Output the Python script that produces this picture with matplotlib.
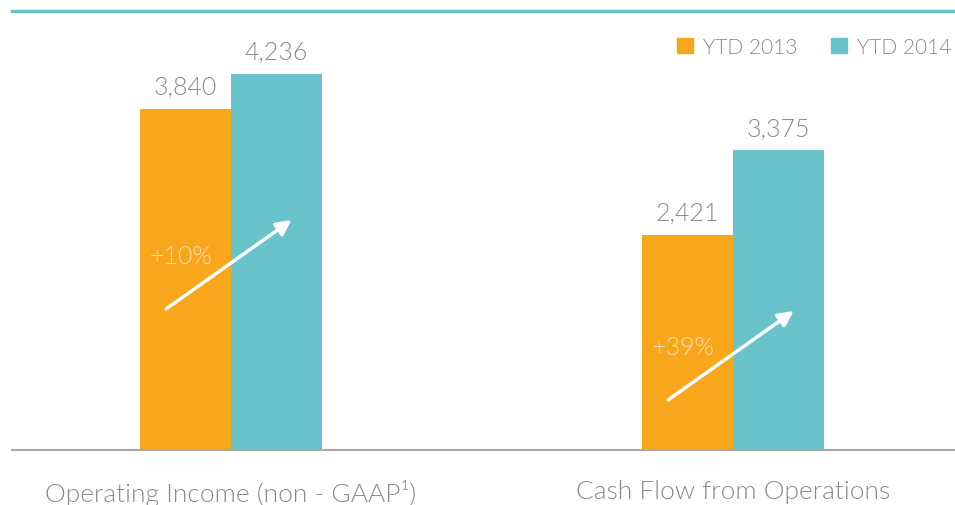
import matplotlib
matplotlib.use("Agg")
import matplotlib.pyplot as plt
from matplotlib.lines import Line2D
from matplotlib.patches import Patch
import numpy as np

categories = ["Operating Income (non - GAAP\u00b9)", "Cash Flow from Operations"]
series_names = ["YTD 2013", "YTD 2014"]
ytd_2013 = [3840, 2421]
ytd_2014 = [4236, 3375]

# annotation arrow positions (data y values) per group
arrow_y_start = [1590, 565]
arrow_y_end = [2590, 1565]
pct_label_y = [2185, 1160]

ORANGE = "#F8A61C"
TEAL = "#68C3CB"
GRAY = "#8A8A8A"
FONT = ["Lato", "DejaVu Sans"]
WT = 300

fig = plt.figure(figsize=(9.55, 5.06), dpi=100)
ax = fig.add_axes([12/955, 55/506, 943/955, 439/506])

x = np.arange(len(categories))
w = 0.1813
b1 = ax.bar(x - w/2, ytd_2013, w, color=ORANGE, label=series_names[0])
b2 = ax.bar(x + w/2, ytd_2014, w, color=TEAL, label=series_names[1])

ax.set_xlim(-0.4362, 1.4423)
ax.set_ylim(0, 4944)

for bars, vals in ((b1, ytd_2013), (b2, ytd_2014)):
    for r, v in zip(bars, vals):
        ax.text(r.get_x() + r.get_width()/2, v + 110, f"{v:,}", ha="center", va="bottom",
                fontsize=18, color=GRAY, family=FONT, fontweight=WT)

for i in range(len(categories)):
    pct = round((ytd_2014[i] / ytd_2013[i] - 1) * 100)
    ax.annotate("", xy=(x[i] + 0.121, arrow_y_end[i]), xytext=(x[i] - 0.129, arrow_y_start[i]),
                arrowprops=dict(arrowstyle="-|>,head_length=0.9,head_width=0.45", color="white", lw=2.5,
                                shrinkA=0, shrinkB=0))
    ax.text(x[i] - 0.1, pct_label_y[i], f"+{pct}%", ha="center", va="center", fontsize=18,
            color="white", alpha=0.65, family=FONT, fontweight=WT)
    ax.text(x[i], -330, categories[i], ha="center", va="top", fontsize=19, color=GRAY,
            family=FONT, fontweight=WT, clip_on=False)

for s in ["top", "right", "left"]:
    ax.spines[s].set_visible(False)
ax.spines["bottom"].set_color("#A8A8A8")
ax.spines["bottom"].set_linewidth(1.5)
ax.set_xticks([])
ax.set_yticks([])

# top rule
fig.add_artist(Line2D([12/955, 1.0], [1 - 12/506, 1 - 12/506], color=TEAL, lw=2.5,
                      transform=fig.transFigure))

handles = [Patch(color=ORANGE), Patch(color=TEAL)]
leg = ax.legend(handles, series_names, loc="upper right", bbox_to_anchor=(1.005, 0.96),
                ncol=2, frameon=False, handlelength=0.75, handleheight=0.75, handletextpad=0.5,
                columnspacing=1.6, borderaxespad=0.0,
                prop=dict(family=FONT, size=15, weight=WT))
for t in leg.get_texts():
    t.set_color(GRAY)

fig.savefig("out.png", dpi=100)
